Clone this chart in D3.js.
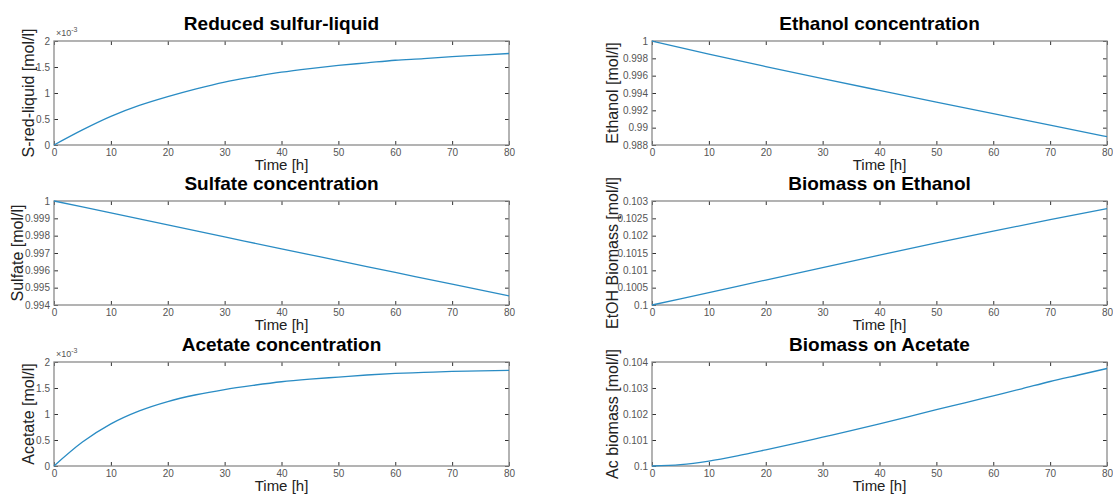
<!DOCTYPE html>
<html>
<head>
<meta charset="utf-8">
<script src="https://cdn.jsdelivr.net/npm/d3@7"></script>
<style>
  body { margin: 0; background: #fff; }
  svg { display: block; font-family: "Liberation Sans", Arial, Helvetica, sans-serif; }
</style>
</head>
<body>
<div id="container"></div>
<script>
// Data
const time5 = [0, 5, 10, 15, 20, 25, 30, 35, 40, 45, 50, 55, 60, 65, 70, 75, 80];
const time10 = [0, 10, 20, 30, 40, 50, 60, 70, 80];

// x 10^-3 mol/l
const sRedLiquid = [0, 0.29, 0.55, 0.76, 0.93, 1.08, 1.21, 1.31, 1.40, 1.47, 1.53, 1.58, 1.63, 1.66, 1.70, 1.73, 1.76];
const sulfate = [1, 0.99931, 0.99862, 0.99793, 0.99724, 0.99656, 0.99588, 0.99520, 0.99453];
// x 10^-3 mol/l
const acetate = [0, 0.46, 0.81, 1.06, 1.24, 1.37, 1.47, 1.55, 1.62, 1.67, 1.71, 1.75, 1.78, 1.80, 1.82, 1.83, 1.84];
const ethanol = [1, 0.99848, 0.99705, 0.99566, 0.99430, 0.99295, 0.99162, 0.99030, 0.98896];
const etohBiomass = [0.1, 0.10036, 0.10072, 0.10108, 0.10144, 0.10179, 0.10213, 0.10246, 0.10278];
const acBiomass = [0.1, 0.10005, 0.10019, 0.10039, 0.10062, 0.10086, 0.10111, 0.10136, 0.10162, 0.10189, 0.10217, 0.10243, 0.10270, 0.10297, 0.10325, 0.10350, 0.10375];

// tick labels
const timeTicks = [0, 10, 20, 30, 40, 50, 60, 70, 80];
const milliTicks = [0, 0.5, 1, 1.5, 2];
const sulfateTicks = [0.994, 0.995, 0.996, 0.997, 0.998, 0.999, 1];
const ethanolTicks = [0.988, 0.99, 0.992, 0.994, 0.996, 0.998, 1];
const etohBiomassTicks = [0.1, 0.1005, 0.101, 0.1015, 0.102, 0.1025, 0.103];
const acBiomassTicks = [0.1, 0.101, 0.102, 0.103, 0.104];

const width = 1113;
const height = 496;

// column / row layout of the subplots
const cols = [{ x0: 54, x1: 509, yl: 28 }, { x0: 652, x1: 1107, yl: 612 }];
const rows = [41, 201, 362];
const plotH = 104;

const panels = [
  { col: 0, row: 0, title: "Reduced sulfur-liquid", ylabel: "S-red-liquid [mol/l]", t: time5, v: sRedLiquid, ticks: milliTicks, exp: true },
  { col: 0, row: 1, title: "Sulfate concentration", ylabel: "Sulfate [mol/l]", t: time10, v: sulfate, ticks: sulfateTicks, yl: 17 },
  { col: 0, row: 2, title: "Acetate concentration", ylabel: "Acetate [mol/l]", t: time5, v: acetate, ticks: milliTicks, exp: true },
  { col: 1, row: 0, title: "Ethanol concentration", ylabel: "Ethanol [mol/l]", t: time10, v: ethanol, ticks: ethanolTicks },
  { col: 1, row: 1, title: "Biomass on Ethanol", ylabel: "EtOH Biomass [mol/l]", t: time10, v: etohBiomass, ticks: etohBiomassTicks },
  { col: 1, row: 2, title: "Biomass on Acetate", ylabel: "Ac biomass [mol/l]", t: time5, v: acBiomass, ticks: acBiomassTicks }
];

const fmt = d3.format("~g");
const boxColor = "#8a8a8a";
const tickText = "#555";

const svg = d3.create("svg")
  .attr("viewBox", [0, 0, width, height])
  .attr("width", width)
  .attr("height", height);

panels.forEach((p) => {
  const c = cols[p.col];
  const top = rows[p.row];
  const x = d3.scaleLinear().domain([0, 80]).range([c.x0, c.x1]);
  const y = d3.scaleLinear().domain(d3.extent(p.ticks)).range([top + plotH, top]);

  const g = svg.append("g");

  // inward ticks on all four sides
  const tl = 4;
  g.append("g").attr("transform", `translate(0,${top + plotH})`)
    .call(d3.axisBottom(x).tickValues(timeTicks).tickSize(-tl).tickFormat(fmt))
    .call((s) => s.selectAll("text").attr("dy", null).attr("y", 11));
  g.append("g").attr("transform", `translate(0,${top})`)
    .call(d3.axisTop(x).tickValues(timeTicks).tickSize(-tl).tickFormat(""));
  g.append("g").attr("transform", `translate(${c.x0},0)`)
    .call(d3.axisLeft(y).tickValues(p.ticks).tickSize(-tl).tickFormat(fmt))
    .call((s) => s.selectAll("text").attr("x", -4));
  g.append("g").attr("transform", `translate(${c.x1},0)`)
    .call(d3.axisRight(y).tickValues(p.ticks).tickSize(-tl).tickFormat(""));

  g.selectAll(".domain").remove();
  g.selectAll(".tick line").attr("stroke", "#333").attr("stroke-width", 1);
  g.selectAll(".tick text").attr("fill", tickText).attr("font-size", 10)
    .attr("font-family", "'Liberation Sans', Arial, sans-serif");

  // axes box
  g.append("rect")
    .attr("x", c.x0).attr("y", top)
    .attr("width", c.x1 - c.x0).attr("height", plotH)
    .attr("fill", "none").attr("stroke", boxColor).attr("stroke-width", 1.3);

  // data line
  const line = d3.line()
    .x((d, i) => x(p.t[i]))
    .y((d) => y(d))
    .curve(d3.curveMonotoneX);
  g.append("path")
    .datum(p.v)
    .attr("fill", "none")
    .attr("stroke", "#2a8cc4")
    .attr("stroke-width", 1.3)
    .attr("d", line);

  // exponent label
  if (p.exp) {
    const t = g.append("text")
      .attr("x", c.x0 + 2).attr("y", top - 5)
      .attr("font-size", 9).attr("fill", tickText);
    t.append("tspan").text("\u00d710");
    t.append("tspan").attr("dy", -4).attr("font-size", 7).text("-3");
  }

  // title
  g.append("text")
    .attr("x", (c.x0 + c.x1) / 2).attr("y", top - 11.5)
    .attr("text-anchor", "middle")
    .attr("font-size", 19).attr("font-weight", "bold").attr("fill", "#000")
    .text(p.title);

  // x label
  g.append("text")
    .attr("x", (c.x0 + c.x1) / 2).attr("y", top + plotH + 25)
    .attr("text-anchor", "middle")
    .attr("font-size", 15).attr("fill", "#222")
    .text("Time [h]");

  // y label
  const yl = p.yl != null ? p.yl : c.yl;
  g.append("text")
    .attr("transform", `translate(${yl + 6},${top + plotH / 2}) rotate(-90)`)
    .attr("text-anchor", "middle")
    .attr("font-size", 16).attr("fill", "#222")
    .text(p.ylabel);
});

document.getElementById("container").append(svg.node());
</script>
</body>
</html>
